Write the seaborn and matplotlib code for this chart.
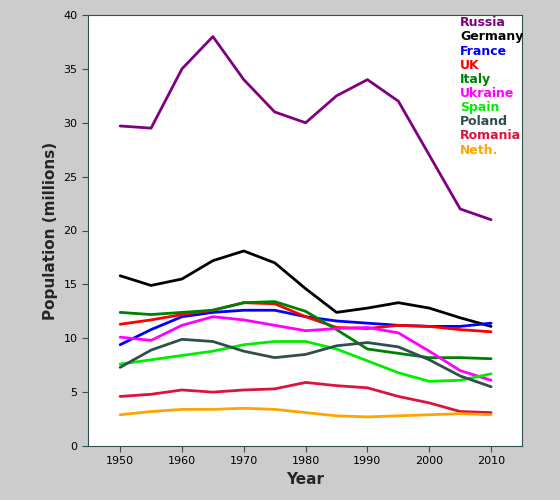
import matplotlib
matplotlib.use("Agg")
import matplotlib.pyplot as plt
import seaborn as sns
import pandas as pd

years = [1950, 1955, 1960, 1965, 1970, 1975, 1980, 1985, 1990, 1995, 2000, 2005, 2010]
countries = ["Russia", "Germany", "France", "UK", "Italy", "Ukraine", "Spain", "Poland", "Romania", "Neth."]
colors = ["#800080", "#000000", "#0000ff", "#ff0000", "#008000", "#ff00ff", "#00ee00", "#2f4f4f", "#dc143c", "#ffa500"]
russia = [29.7, 29.5, 35.0, 38.0, 34.0, 31.0, 30.0, 32.5, 34.0, 32.0, 27.0, 22.0, 21.0]
germany = [15.8, 14.9, 15.5, 17.2, 18.1, 17.0, 14.6, 12.4, 12.8, 13.3, 12.8, 11.9, 11.1]
france = [9.4, 10.8, 12.0, 12.4, 12.6, 12.6, 12.0, 11.6, 11.4, 11.2, 11.1, 11.1, 11.4]
uk = [11.3, 11.7, 12.2, 12.6, 13.3, 13.2, 12.0, 11.0, 10.9, 11.2, 11.1, 10.8, 10.6]
italy = [12.4, 12.2, 12.4, 12.6, 13.3, 13.4, 12.5, 10.8, 9.0, 8.6, 8.2, 8.2, 8.1]
ukraine = [10.1, 9.8, 11.2, 12.0, 11.7, 11.2, 10.7, 10.9, 11.0, 10.5, 8.8, 7.0, 6.1]
spain = [7.6, 8.0, 8.4, 8.8, 9.4, 9.7, 9.7, 9.0, 7.9, 6.8, 6.0, 6.1, 6.7]
poland = [7.3, 8.9, 9.9, 9.7, 8.8, 8.2, 8.5, 9.3, 9.6, 9.2, 8.0, 6.5, 5.5]
romania = [4.6, 4.8, 5.2, 5.0, 5.2, 5.3, 5.9, 5.6, 5.4, 4.6, 4.0, 3.2, 3.1]
neth = [2.9, 3.2, 3.4, 3.4, 3.5, 3.4, 3.1, 2.8, 2.7, 2.8, 2.9, 3.0, 2.9]
series = [russia, germany, france, uk, italy, ukraine, spain, poland, romania, neth]

rows = []
for c, vals in zip(countries, series):
    for y, v in zip(years, vals):
        rows.append({"Year": y, "Population": v, "Country": c})
df = pd.DataFrame(rows)

sns.set_style("white")
fig = plt.figure(figsize=(5.6, 5.0), dpi=100, facecolor="#cccccc")
ax = fig.add_axes([88/560, 54/500, 434/560, 431/500])
ax.set_facecolor("white")
sns.lineplot(data=df, x="Year", y="Population", hue="Country", palette=dict(zip(countries, colors)),
             linewidth=2, legend=False, ax=ax)
for l in ax.lines:
    l.set_solid_joinstyle("round")
ax.set_xlim(1944.8, 2015)
ax.set_ylim(0, 40)
ax.set_xticks(range(1950, 2011, 10))
ax.set_yticks(range(0, 41, 5))
for s in ax.spines.values():
    s.set_color("#2f4f4f")
ax.tick_params(axis="both", length=4, color="#2f4f4f", labelsize=8, labelcolor="black",
               direction="out", bottom=True, left=True)
ax.set_xlabel("Year", fontsize=11, fontweight="bold")
ax.set_ylabel("Population (millions)", fontsize=11, fontweight="bold")
for i, (c, col) in enumerate(zip(countries, colors)):
    ax.text(0.857, 0.997 - i * 0.0328, c, color=col, fontsize=9, fontweight="bold",
            transform=ax.transAxes, va="top", ha="left")
fig.savefig("out.png", dpi=100, facecolor=fig.get_facecolor())
